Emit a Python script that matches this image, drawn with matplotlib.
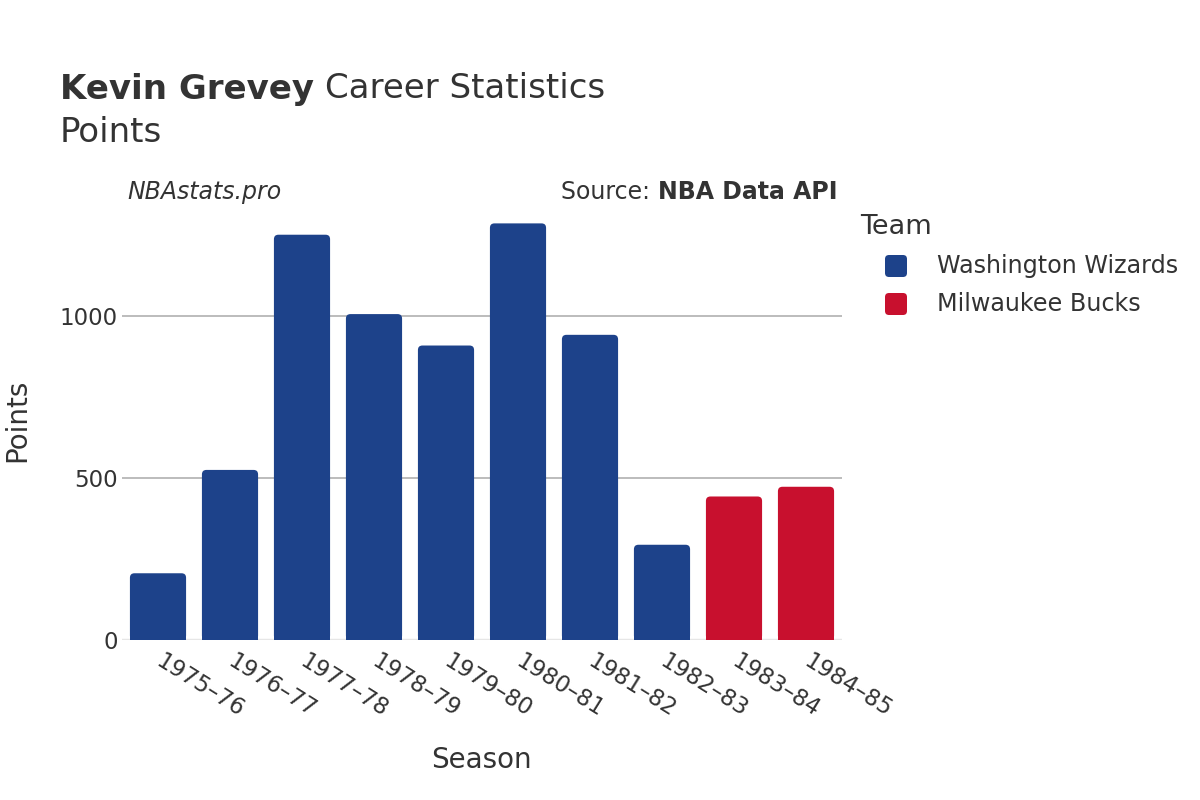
import matplotlib.pyplot as plt
from matplotlib.patches import FancyBboxPatch, Rectangle
from matplotlib.transforms import IdentityTransform

# data
seasons = ['1975–76', '1976–77', '1977–78', '1978–79', '1979–80',
           '1980–81', '1981–82', '1982–83', '1983–84', '1984–85']
points = [206, 525, 1251, 1006, 909, 1286, 942, 294, 443, 473]
teams = ['Washington Wizards'] * 8 + ['Milwaukee Bucks'] * 2

team_names = ['Washington Wizards', 'Milwaukee Bucks']
team_colors = {'Washington Wizards': '#1D428A', 'Milwaukee Bucks': '#C8102E'}

text_color = '#333333'
plt.rcParams['font.family'] = 'DejaVu Sans'

W, H = 1200, 800
fig = plt.figure(figsize=(12, 8), dpi=100)
ax = fig.add_axes([122 / W, 1 - 640 / H, 720 / W, 438 / H])

ymax = 1352
ax.set_xlim(-0.5, len(seasons) - 0.5)
ax.set_ylim(0, ymax)

# rounded bars (top corners only)
bar_w = 0.78
px_x = 720 / len(seasons)          # pixels per x unit
px_y = 438 / ymax                  # pixels per y unit
r_x = 4.5 / px_x
aspect = px_x / px_y
for i, (val, team) in enumerate(zip(points, teams)):
    col = team_colors[team]
    left = i - bar_w / 2
    ax.add_patch(FancyBboxPatch((left, 0), bar_w, val,
                                boxstyle=f'round,pad=0,rounding_size={r_x}',
                                mutation_aspect=aspect, fc=col, ec='none', zorder=3))
    ax.add_patch(Rectangle((left, 0), bar_w, val / 2, fc=col, ec='none', zorder=3))

# grid and zero line
for yv in [500, 1000]:
    ax.axhline(yv, color='#a9a9a9', lw=1.1, zorder=1)
ax.axhline(0, color='#e6e6e6', lw=2.5, zorder=2)

for s in ax.spines.values():
    s.set_visible(False)

ax.set_yticks([0, 500, 1000])
ax.set_yticklabels(['0', '500', '1000'])
ax.tick_params(axis='y', length=0, pad=3, labelsize=16.5, labelcolor=text_color)
ax.set_xticks(range(len(seasons)))
ax.set_xticklabels(seasons, rotation=-32, ha='left', va='center',
                   rotation_mode='anchor')
ax.tick_params(axis='x', length=0, pad=14, labelsize=16.5, labelcolor=text_color)

fig.text(481 / W, 1 - 760 / H, 'Season', ha='center', va='center',
         fontsize=20, color=text_color)
fig.text(17 / W, 1 - 420 / H, 'Points', ha='center', va='center',
         rotation=90, fontsize=20, color=text_color)

# title
t1 = fig.text(60 / W, 1 - 89 / H, 'Kevin Grevey', ha='left', va='center',
              fontsize=24.5, fontweight='bold', color=text_color)
fig.canvas.draw()
bb = t1.get_window_extent()
fig.text(bb.x1 / W + 11 / W, 1 - 89 / H, 'Career Statistics', ha='left',
         va='center', fontsize=24.5, color=text_color)
fig.text(60 / W, 1 - 132 / H, 'Points', ha='left', va='center',
         fontsize=24.5, color=text_color)

fig.text(127 / W, 1 - 192 / H, 'NBAstats.pro', ha='left', va='center',
         fontsize=17, style='italic', color=text_color)
t2 = fig.text(838 / W, 1 - 192 / H, 'NBA Data API', ha='right', va='center',
              fontsize=17, fontweight='bold', color=text_color)
fig.canvas.draw()
bb2 = t2.get_window_extent()
fig.text(bb2.x0 / W - 1 / W, 1 - 192 / H, 'Source: ', ha='right',
         va='center', fontsize=17, color=text_color)

# legend drawn by hand for rounded swatches
fig.text(860 / W, 1 - 227 / H, 'Team', ha='left', va='center',
         fontsize=19.5, color=text_color)
legend_y = [266, 304]
for name, ly in zip(team_names, legend_y):
    sw = FancyBboxPatch((885, H - ly - 11), 22, 22,
                        boxstyle='round,pad=0,rounding_size=4',
                        fc=team_colors[name], ec='none',
                        transform=IdentityTransform())
    fig.add_artist(sw)
    fig.text(937 / W, 1 - ly / H, name, ha='left', va='center',
             fontsize=17.2, color=text_color)

fig.savefig('out.png', dpi=100)
